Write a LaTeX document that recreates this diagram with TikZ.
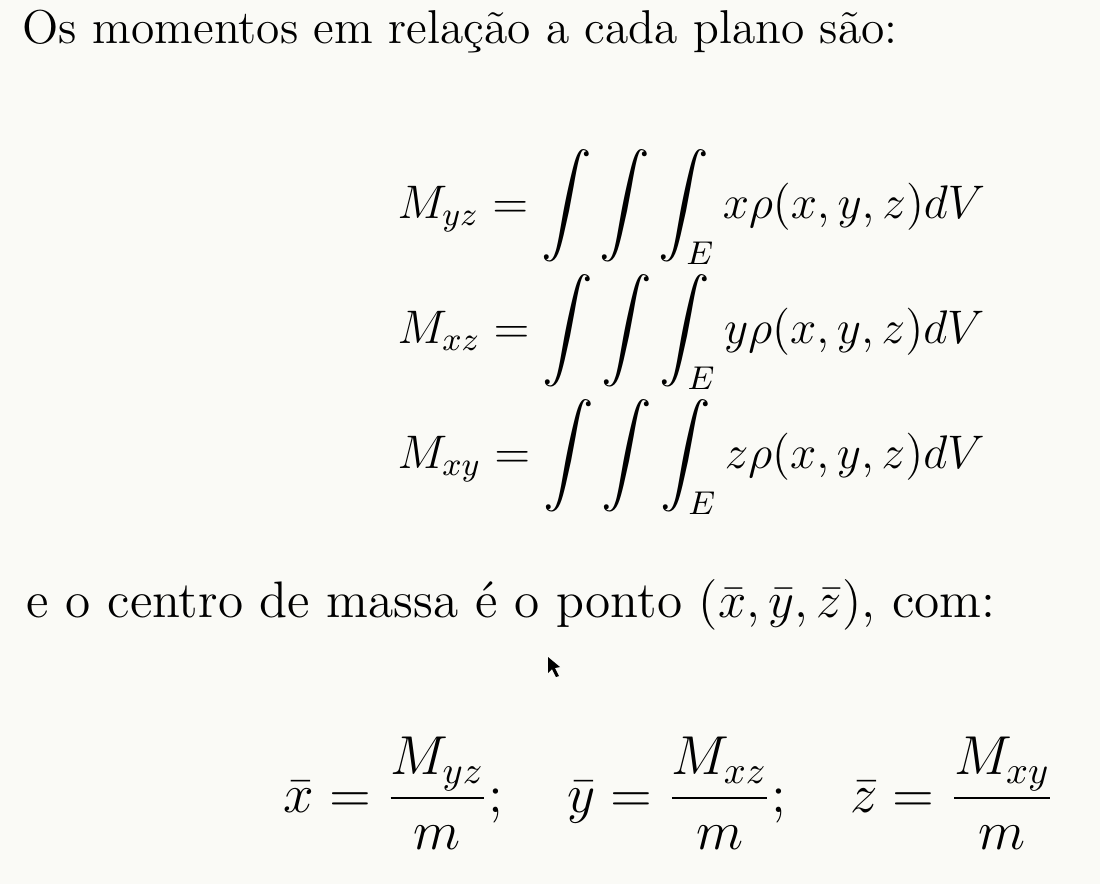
\RequirePackage{fix-cm}
\documentclass[tikz,border=0pt]{standalone}
\usepackage{amsmath}
\definecolor{fundo}{RGB}{250,250,246}
\tikzset{linha/.style={anchor=base west,inner sep=0pt,font=\fontsize{13.5}{16}\selectfont}}
\begin{document}
\begin{tikzpicture}[x=0.01cm,y=-0.01cm]
	\fill[fundo] (0,0) rectangle (1100,884);
	\useasboundingbox (0,0) rectangle (1100,884);
	\node[linha](texto1) at (22,43) {Os momentos em relação a cada plano são:};
	\node[linha,font=\fontsize{13.4}{16}\selectfont](myz) at (397,218)
	{$\displaystyle M_{yz} = \int\int\int_E x\rho(x,y,z)dV$};
	\node[linha,font=\fontsize{13.4}{16}\selectfont](mxz) at (397,343)
	{$\displaystyle M_{xz} = \int\int\int_E y\rho(x,y,z)dV$};
	\node[linha,font=\fontsize{13.4}{16}\selectfont](mxy) at (397,468)
	{$\displaystyle M_{xy} = \int\int\int_E z\rho(x,y,z)dV$};
	\node[linha,font=\fontsize{14.6}{17}\selectfont](texto2) at (26,617)
	{e o centro de massa é o ponto {\fontsize{14.4}{17}\selectfont$(\bar{x},\bar{y},\bar{z})$}, com:};
	\node[linha,font=\fontsize{15.6}{18}\selectfont](centro) at (283,812)
	{$\displaystyle \bar{x} = \frac{M_{yz}}{m};\quad \bar{y} = \frac{M_{xz}}{m};\quad \bar{z} = \frac{M_{xy}}{m}$};
	% cursor
	\fill (548,657) -- (548,673) -- (552,669) -- (556,677) -- (559,676) -- (555,668) -- (560,667) -- cycle;
\end{tikzpicture}
\end{document}
